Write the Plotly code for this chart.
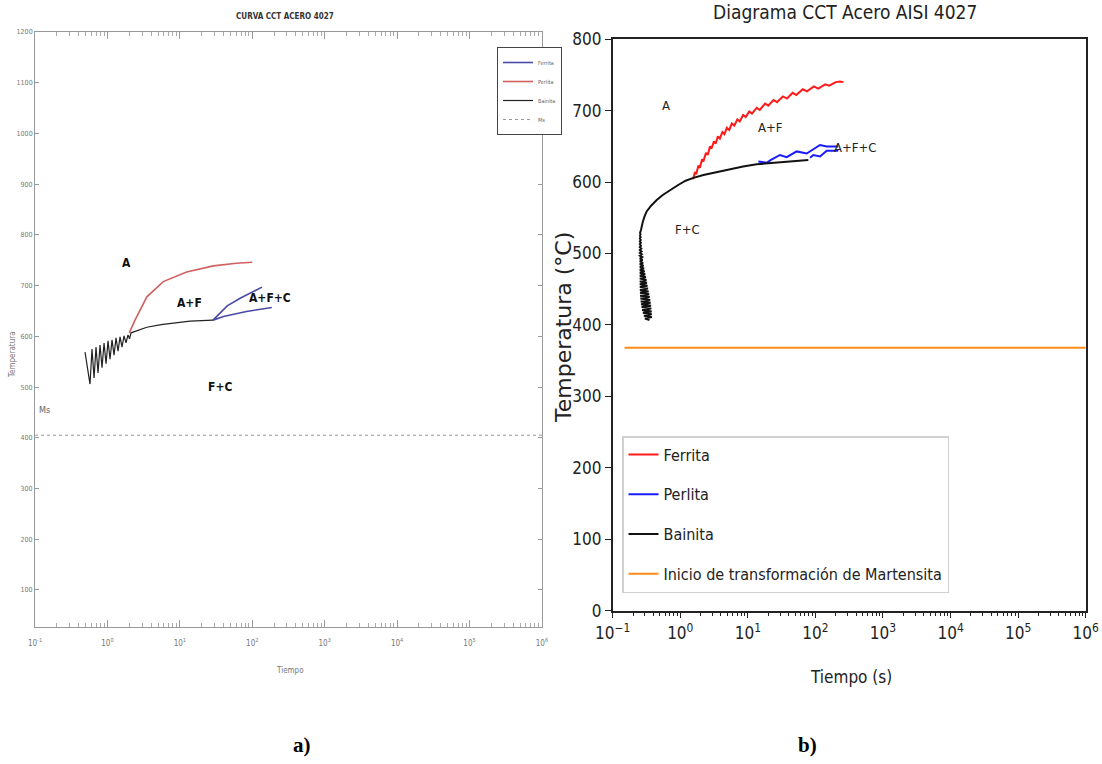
import math
import plotly.graph_objects as go

# ---------------- Panel a) (left) data ----------------
a_bainita_t = [0.490, 0.574, 0.612, 0.653, 0.695, 0.741, 0.790, 0.841, 0.897, 0.956, 1.018, 1.085,
               1.156, 1.232, 1.313, 1.400, 1.492, 1.589, 1.694, 1.805, 1.923, 2.017, 2.116,
               3.5, 5.5, 8.0, 13.8, 20.0, 28.7]
a_bainita_T = [569, 506, 575, 518, 579, 528, 583, 538, 587, 546, 591, 555,
               593, 563, 597, 571, 599, 579, 601, 587, 603, 595, 607,
               618, 623, 626, 630, 631, 632]
a_perlita_t = [2.0, 2.4, 3.5, 5.9, 12.4, 29, 60, 100]
a_perlita_T = [607, 632, 678, 708, 727, 739, 744, 746]
a_ferrita1_t = [28.7, 35, 45, 68, 100, 136]
a_ferrita1_T = [632, 645, 660, 675, 687, 697]
a_ferrita2_t = [28.7, 40, 83, 130, 186]
a_ferrita2_T = [632, 639, 649, 654, 657]
a_ms_t = [0.1, 1e6]
a_ms_T = [405, 405]
a_regions = ["A", "A+F", "A+F+C", "F+C", "Ms"]
a_region_t = [1.85, 13.5, 174, 35.8, 0.137]
a_region_T = [744, 665, 676, 501, 455]
a_yticks = [100, 200, 300, 400, 500, 600, 700, 800, 900, 1000, 1100, 1200]

# ---------------- Panel b) (right) data ----------------
b_ferrita_t = [1.55, 1.65, 1.72, 1.85, 1.95, 2.1, 2.2, 2.4, 2.55, 2.75, 2.9, 3.15, 3.35, 3.6,
               3.85, 4.2, 4.5, 4.9, 5.3, 5.8, 6.3, 7.0, 7.6, 8.5, 9.3, 10.5, 11.5, 13.5, 15,
               18, 20, 24, 27, 33, 38, 46, 52, 65, 75, 95, 110, 140, 160, 200, 230, 260]
b_ferrita_T = [604, 614, 611, 623, 620, 632, 629, 641, 638, 650, 647, 657, 654, 664,
               661, 670, 667, 676, 673, 682, 679, 688, 685, 694, 691, 699, 696, 704, 701,
               710, 707, 715, 712, 720, 717, 725, 722, 730, 727, 734, 731, 737, 735, 740, 741, 740]
b_perlita1_t = [14.3, 19, 22, 29.9, 37.6, 52.8, 74.3, 117, 147, 218]
b_perlita1_T = [629, 627, 631, 638, 635, 643, 640, 652, 650, 650]
b_perlita2_t = [83.2, 93, 117, 147, 218]
b_perlita2_T = [634, 638, 636, 644, 644]
b_bainita_t = [0.35, 0.30, 0.38, 0.29, 0.378, 0.28, 0.376, 0.273, 0.372, 0.268, 0.369, 0.263,
               0.364, 0.26, 0.358, 0.257, 0.352, 0.255, 0.346, 0.254, 0.34, 0.253, 0.333, 0.252,
               0.327, 0.252, 0.321, 0.252, 0.316, 0.252, 0.31, 0.252, 0.303, 0.252, 0.297, 0.252,
               0.291, 0.252, 0.286, 0.252, 0.281, 0.252, 0.277, 0.252, 0.273, 0.252, 0.269, 0.252,
               0.267, 0.252, 0.265, 0.252, 0.262, 0.252, 0.261, 0.252, 0.26, 0.252, 0.259, 0.253,
               0.258, 0.254,
               0.262, 0.268, 0.28, 0.296, 0.318, 0.37, 0.448, 0.55, 0.705, 0.93, 1.2, 1.56,
               2.2, 3.08, 4.1, 5.45, 8.5, 13.5, 29.9, 50, 78.5]
b_bainita_T = [407, 409, 411, 413, 415, 417, 419, 421, 423, 425, 427, 429,
               431, 433, 435, 437, 439, 441, 443, 445, 447, 449, 451, 453,
               455, 457, 459, 461, 463, 465, 467, 469, 471, 473, 475, 477,
               479, 481, 483, 485, 487, 489, 491, 493, 495, 497, 499, 501,
               503, 505, 507, 509, 511, 513, 515, 517, 519, 521, 523, 525,
               527, 529,
               533, 538, 545, 552, 559, 567, 575, 582, 589, 596, 602, 606,
               610, 613, 616, 619, 622, 625, 628, 630, 631]
b_ms_t = [0.15, 1e6]
b_ms_T = [368, 368]
b_regions = ["A", "A+F", "A+F+C", "F+C"]
b_region_t = [0.615, 21.3, 392, 1.3]
b_region_T = [707, 677, 648, 533]

decades = [-1, 0, 1, 2, 3, 4, 5, 6]

NARROW = "DejaVu Sans Condensed, Liberation Sans, sans-serif"

fig = go.Figure()

# ---- left traces
fig.add_trace(go.Scatter(x=a_ferrita1_t, y=a_ferrita1_T, mode="lines", name="Ferrita",
                         line=dict(color="#4a4aa6", width=1.6), xaxis="x", yaxis="y",
                         legend="legend2", legendrank=1))
fig.add_trace(go.Scatter(x=a_ferrita2_t, y=a_ferrita2_T, mode="lines", name="Ferrita",
                         line=dict(color="#4a4aa6", width=1.6), xaxis="x", yaxis="y",
                         legend="legend2", showlegend=False))
fig.add_trace(go.Scatter(x=a_perlita_t, y=a_perlita_T, mode="lines", name="Perlita",
                         line=dict(color="#d06060", width=1.6), xaxis="x", yaxis="y",
                         legend="legend2", legendrank=2))
fig.add_trace(go.Scatter(x=a_bainita_t, y=a_bainita_T, mode="lines", name="Bainita",
                         line=dict(color="#222222", width=1.2), xaxis="x", yaxis="y",
                         legend="legend2", legendrank=3))
fig.add_trace(go.Scatter(x=a_ms_t, y=a_ms_T, mode="lines", name="Ms",
                         line=dict(color="#999999", width=1.2, dash="dot"), xaxis="x", yaxis="y",
                         legend="legend2", legendrank=4))

# ---- right traces
fig.add_trace(go.Scatter(x=b_ferrita_t, y=b_ferrita_T, mode="lines", name="Ferrita",
                         line=dict(color="#ff1a1a", width=2), xaxis="x2", yaxis="y2",
                         legend="legend", legendgroup="g1", legendrank=1))
fig.add_trace(go.Scatter(x=b_perlita1_t, y=b_perlita1_T, mode="lines", name="Perlita",
                         line=dict(color="#1a1aff", width=2), xaxis="x2", yaxis="y2",
                         legend="legend", legendgroup="g2", legendrank=2))
fig.add_trace(go.Scatter(x=b_perlita2_t, y=b_perlita2_T, mode="lines", name="Perlita",
                         line=dict(color="#1a1aff", width=2), xaxis="x2", yaxis="y2",
                         legend="legend", legendgroup="g2", showlegend=False))
fig.add_trace(go.Scatter(x=b_bainita_t, y=b_bainita_T, mode="lines", name="Bainita",
                         line=dict(color="#111111", width=2), xaxis="x2", yaxis="y2",
                         legend="legend", legendgroup="g3", legendrank=3))
fig.add_trace(go.Scatter(x=b_ms_t, y=b_ms_T, mode="lines",
                         name="Inicio de transformación de Martensita",
                         line=dict(color="#ff8c1a", width=2), xaxis="x2", yaxis="y2",
                         legend="legend", legendgroup="g4", legendrank=4))

minor_vals = [m * 10 ** k for k in range(-1, 6) for m in range(2, 10)]

fig.update_layout(
    width=1102, height=764, margin=dict(l=0, r=0, t=0, b=0, autoexpand=False),
    paper_bgcolor="white", plot_bgcolor="white", showlegend=True,
    xaxis=dict(type="log", domain=[0.0318, 0.4918], range=[-1, 6], anchor="y", automargin=False,
               tickvals=[10 ** k for k in decades],
               ticktext=[f"10<sup>{k}</sup>" for k in decades],
               ticks="inside", ticklen=7, tickcolor="#999", showline=True, linecolor="#999",
               linewidth=1, mirror="ticks", showgrid=False, zeroline=False, ticklabelstandoff=8,
               tickfont=dict(family=NARROW, size=8, color="#777"),
               minor=dict(tickvals=minor_vals, ticks="inside", ticklen=4, tickcolor="#aaa")),
    yaxis=dict(domain=[0.1793, 0.9581], range=[27, 1200], anchor="x", automargin=False,
               tickvals=a_yticks, ticks="inside", ticklen=4, tickcolor="#999",
               showline=True, linecolor="#999", linewidth=1, mirror="ticks",
               showgrid=False, zeroline=False,
               tickfont=dict(family=NARROW, size=7, color="#777")),
    xaxis2=dict(type="log", domain=[0.556, 0.9852], range=[-1, 6], anchor="y2", automargin=False,
                tickvals=[10 ** k for k in decades],
                ticktext=[f"10<sup>{'−1' if k < 0 else k}</sup>" for k in decades],
                ticks="outside", ticklen=6, tickwidth=1.2, tickcolor="#222",
                showline=True, linecolor="#222", linewidth=1.6, mirror=True,
                showgrid=False, zeroline=False,
                tickfont=dict(family=NARROW, size=17, color="#222"),
                minor=dict(tickvals=minor_vals, ticks="outside", ticklen=3.5, tickcolor="#222")),
    yaxis2=dict(domain=[0.2007, 0.9486], range=[0, 800], anchor="x2", dtick=100, automargin=False,
                ticks="outside", ticklen=6, tickwidth=1.2, tickcolor="#222",
                showline=True, linecolor="#222", linewidth=1.6, mirror=True,
                showgrid=False, zeroline=False,
                tickfont=dict(family=NARROW, size=17, color="#222")),
    legend=dict(x=622 / 1102, y=1 - 436 / 764, xanchor="left", yanchor="top",
                bgcolor="white", bordercolor="#d0d0d0", borderwidth=1.5,
                font=dict(family=NARROW, size=16, color="#222"),
                tracegroupgap=16, itemwidth=30),
    legend2=dict(x=497 / 1102, y=1 - 47 / 764, xanchor="left", yanchor="top",
                 bgcolor="white", bordercolor="#444", borderwidth=1,
                 font=dict(family=NARROW, size=5.5, color="#666"), itemwidth=30,
                 tracegroupgap=0),
)

ann = []
# left region labels
for lab, t, T in zip(a_regions, a_region_t, a_region_T):
    ann.append(dict(x=math.log10(t), y=T, xref="x", yref="y",
                    text=f"<b>{lab}</b>" if lab != "Ms" else lab,
                    xanchor="center", yanchor="middle", showarrow=False,
                    font=dict(family=NARROW, size=12 if lab != "Ms" else 9,
                              color="#111" if lab != "Ms" else "#666")))
# right region labels
for lab, t, T in zip(b_regions, b_region_t, b_region_T):
    ann.append(dict(x=math.log10(t), y=T, xref="x2", yref="y2", text=lab, showarrow=False,
                    xanchor="center", yanchor="middle",
                    font=dict(family=NARROW, size=13, color="#222")))


def paper_text(x, y, text, size, family=NARROW, color="#222", angle=0):
    return dict(x=x / 1102, y=1 - y / 764, xref="paper", yref="paper", text=text,
                xanchor="center", yanchor="middle", textangle=angle, showarrow=False,
                font=dict(family=family, size=size, color=color))


ann += [
    paper_text(285, 17, "<b>CURVA CCT ACERO 4027</b>", 8, color="#333"),
    paper_text(13, 355, "Temperatura", 8, color="#777", angle=-90),
    paper_text(290, 670, "Tiempo", 8, color="#777"),
    paper_text(845, 12, "Diagrama CCT Acero AISI 4027", 19),
    paper_text(563, 327, "Temperatura (°C)", 22, family="DejaVu Sans", angle=-90),
    paper_text(851, 677, "Tiempo (s)", 17),
    paper_text(302, 745, "<b>a)</b>", 21, family="Liberation Serif", color="#000"),
    paper_text(807, 745, "<b>b)</b>", 21, family="Liberation Serif", color="#000"),
]
fig.update_layout(annotations=ann)

fig.write_html("out.html")
